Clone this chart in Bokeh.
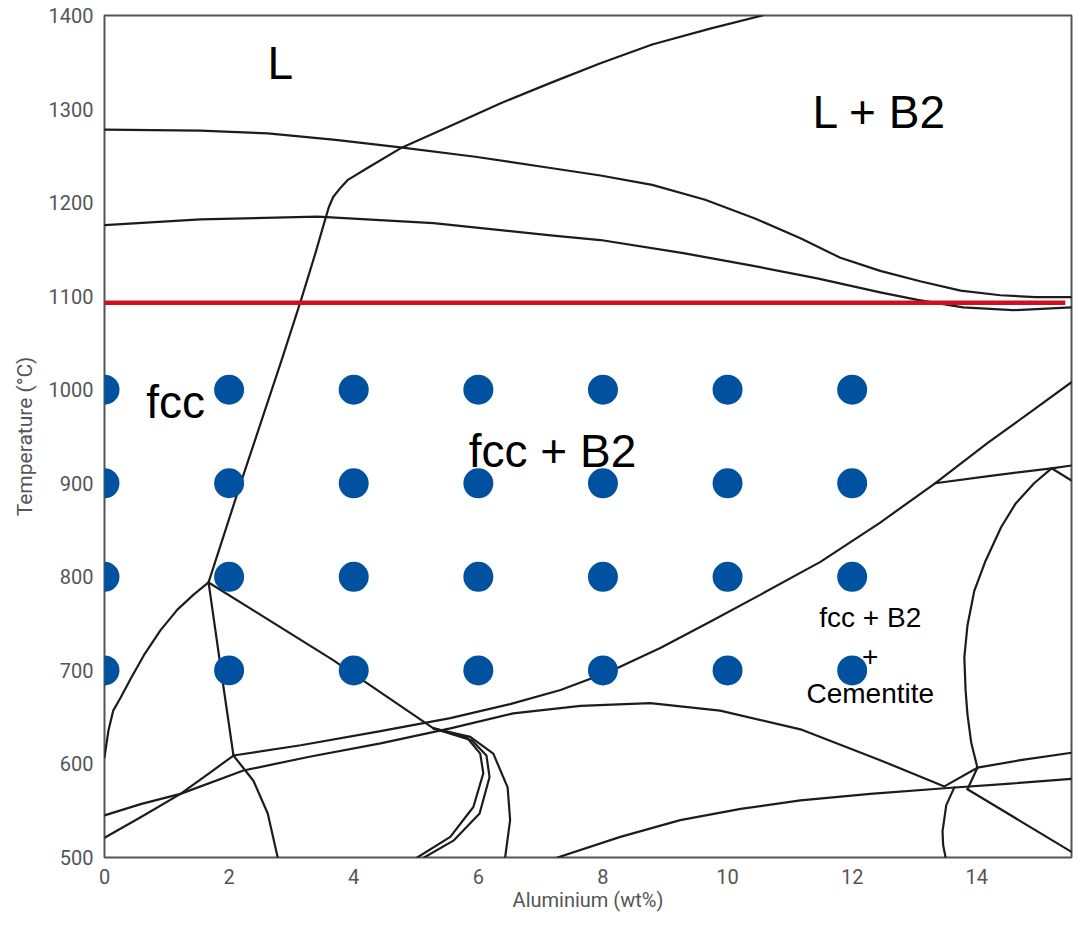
from bokeh.plotting import figure
from bokeh.models import Range1d, FixedTicker
from bokeh.core.properties import value
from bokeh.embed import file_html
from bokeh.resources import INLINE

# ---- phase boundaries: Aluminium (wt%) vs Temperature (°C) ----
liq_upper_x = [0, 1.54, 2.62, 3.71, 4.75, 5.95, 7.16, 7.96, 8.79, 9.64, 10.44, 11.17,
               11.81, 12.45, 13.09, 13.74, 14.38, 14.94, 15.52]
liq_upper_T = [1278, 1277, 1274, 1267, 1259, 1249, 1237, 1229, 1219, 1203, 1183, 1162,
               1141, 1127, 1116, 1106, 1101, 1099, 1099]

sol_lower_x = [0, 1.54, 3.42, 5.28, 7.16, 7.96, 9.29, 10.37, 11.44, 12.45, 13.05, 13.78,
               14.58, 15.52]
sol_lower_T = [1176, 1182, 1185, 1178, 1165, 1160, 1146, 1133, 1119, 1104, 1096, 1088,
               1085, 1088]

fcc_b2_x = [1.67, 2.18, 2.84, 3.15, 3.39, 3.52, 3.60, 3.67, 3.79, 3.90, 4.22, 4.75, 5.55,
            6.35, 7.16, 7.96, 8.79, 9.72, 10.56]
fcc_b2_T = [794, 899, 1031, 1095, 1147, 1177, 1195, 1206, 1216, 1224, 1237, 1258, 1282,
            1306, 1328, 1349, 1369, 1386, 1400]

arc_left_x = [0, 0.064, 0.14, 0.26, 0.42, 0.63, 0.90, 1.17, 1.43, 1.67]
arc_left_T = [607, 636, 657, 671, 691, 716, 743, 765, 781, 794]

seg_p_x = [1.67, 1.91, 2.07]
seg_p_T = [794, 682, 609]

seg_q_x = [1.67, 3.67, 5.28]
seg_q_T = [794, 711, 638]

dome1_x = [5.28, 5.82, 6.03, 6.08, 5.92, 5.55, 5.02]
dome1_T = [638, 628, 611, 590, 554, 522, 500]
dome2_x = [5.28, 5.90, 6.13, 6.18, 6.02, 5.60, 5.13]
dome2_T = [638, 625, 609, 586, 547, 518, 500]
dome3_x = [5.28, 5.87, 6.24, 6.47, 6.51, 6.43]
dome3_T = [638, 629, 611, 575, 540, 500]

f_line_x = [0, 0.58, 1.22, 2.23, 3.31, 4.43, 5.55, 6.56, 7.64, 8.76, 9.88, 11.17, 12.45, 13.48]
f_line_T = [545, 557, 568, 593, 608, 622, 638, 654, 662, 665, 657, 637, 604, 576]

e2_x = [0, 0.58, 1.22, 1.70, 2.07]
e2_T = [521, 543, 568, 591, 609]

d_line_x = [2.07, 3.15, 4.43, 5.55, 6.51, 7.32, 8.12, 8.92, 9.72, 10.53, 11.49, 12.45,
            13.33, 14.17, 14.86, 15.52]
d_line_T = [609, 620, 635, 649, 664, 679, 699, 724, 752, 781, 816, 858, 900, 943, 976, 1008]

s_line_x = [2.07, 2.39, 2.62, 2.78]
s_line_T = [609, 582, 547, 500]

r_line_x = [7.27, 8.28, 9.24, 10.21, 11.17, 12.29, 13.48, 14.54, 15.52]
r_line_T = [500, 522, 540, 552, 561, 568, 574, 579, 584]

l_line_x = [14.01, 14.70, 15.52]
l_line_T = [596, 604, 612]

g_line_x = [13.33, 14.22, 15.20, 15.52]
g_line_T = [900, 908, 916, 919]

g_short_x = [15.20, 15.52]
g_short_T = [916, 903]

h_line_x = [15.20, 14.92, 14.62, 14.39, 14.14, 13.96, 13.85, 13.80, 13.82, 13.85, 13.91, 14.01]
h_line_T = [916, 900, 878, 853, 817, 785, 748, 714, 679, 653, 623, 596]

j1_x = [13.48, 14.01]
j1_T = [576, 596]
j2_x = [13.85, 14.01]
j2_T = [573, 596]
j3_x = [13.85, 15.52]
j3_T = [573, 506]

m_line_x = [13.64, 13.51, 13.45, 13.46, 13.50]
m_line_T = [575, 556, 528, 513, 500]

curves = [
    (liq_upper_x, liq_upper_T), (sol_lower_x, sol_lower_T), (fcc_b2_x, fcc_b2_T),
    (arc_left_x, arc_left_T), (seg_p_x, seg_p_T), (seg_q_x, seg_q_T),
    (dome1_x, dome1_T), (dome2_x, dome2_T), (dome3_x, dome3_T),
    (f_line_x, f_line_T), (e2_x, e2_T), (d_line_x, d_line_T), (s_line_x, s_line_T),
    (r_line_x, r_line_T), (l_line_x, l_line_T), (g_line_x, g_line_T),
    (g_short_x, g_short_T), (h_line_x, h_line_T), (j1_x, j1_T), (j2_x, j2_T),
    (j3_x, j3_T), (m_line_x, m_line_T),
]

# ---- red isotherm ----
red_x = [-0.06, 15.42]
red_T = [1093, 1093]

# ---- sample points ----
dot_al = [0, 2, 4, 6, 8, 10, 12]
dot_temps = [1000, 900, 800, 700]

# ---- region labels ----
big_labels = ["L", "L + B2", "fcc", "fcc + B2"]
big_x = [2.82, 12.44, 1.14, 7.19]
big_T = [1349, 1297, 987, 934]

small_labels = ["fcc + B2", "+", "Cementite"]
small_x = [12.29, 12.29, 12.29]
small_T = [757, 715, 675]

x_ticks = [0, 2, 4, 6, 8, 10, 12, 14]
y_ticks = [500, 600, 700, 800, 900, 1000, 1100, 1200, 1300, 1400]

p = figure(width=1084, height=925, output_backend="svg", toolbar_location=None,
           x_range=Range1d(0, 15.52), y_range=Range1d(500, 1400),
           min_border_left=104, min_border_right=13, min_border_top=15,
           min_border_bottom=68)
p.background_fill_color = "white"
p.border_fill_color = "white"
p.outline_line_color = "#555555"
p.outline_line_width = 2
p.xgrid.visible = False
p.ygrid.visible = False

for ax in (p.xaxis[0], p.yaxis[0]):
    ax.axis_line_color = None
    ax.major_tick_line_color = None
    ax.minor_tick_line_color = None
    ax.major_label_text_font = "Roboto"
    ax.major_label_text_font_size = "20px"
    ax.major_label_text_color = "#555555"
    ax.axis_label_text_font = "Roboto"
    ax.axis_label_text_font_style = "normal"
    ax.axis_label_text_color = "#555555"
    ax.major_label_standoff = 5

p.xaxis.ticker = FixedTicker(ticks=x_ticks)
p.yaxis.ticker = FixedTicker(ticks=y_ticks)
p.xaxis.axis_label = "Aluminium (wt%)"
p.yaxis.axis_label = "Temperature (°C)"
p.xaxis.axis_label_text_font_size = "20px"
p.yaxis.axis_label_text_font_size = "21px"
p.xaxis.axis_label_standoff = 1
p.yaxis.axis_label_standoff = 9

for cx, cy in curves:
    p.line(cx, cy, line_color="#1c1c1c", line_width=2.2, line_join="round", line_cap="round")

p.line(red_x, red_T, line_color="#d0101f", line_width=4.5)

dx = [a for t in dot_temps for a in dot_al]
dy = [t for t in dot_temps for a in dot_al]
p.scatter(dx, dy, size=30, fill_color="#0052a0", line_color=None)

p.text(big_x, big_T, text=big_labels, text_font=value("Liberation Sans"),
       text_font_size="46px", text_align="center", text_baseline="alphabetic",
       text_color="black")
p.text(small_x, small_T, text=small_labels, text_font=value("Liberation Sans"),
       text_font_size="28px", text_align="center", text_baseline="alphabetic",
       text_color="black")

open("out.html", "w").write(file_html(p, INLINE))
